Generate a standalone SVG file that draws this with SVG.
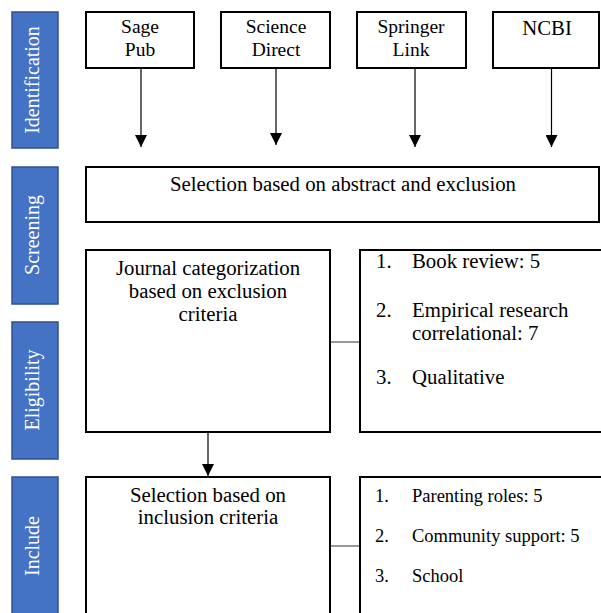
<svg xmlns="http://www.w3.org/2000/svg" width="601" height="613" viewBox="0 0 601 613">
<style>
.bar{fill:#4472C4;stroke:#2F528F;stroke-width:1.5}
.bt{font-family:"Liberation Serif","Times New Roman",serif;font-size:20px;fill:#fff;text-anchor:middle}
.box{fill:#fff;stroke:#000;stroke-width:2}
.t{font-family:"Liberation Serif","Times New Roman",serif;font-size:20.8px;fill:#000}
.c{text-anchor:middle}
.s{font-size:18.5px}
.src{font-size:19.5px}
.ln{stroke:#000;stroke-width:1.2;fill:none}
.cn{stroke:#555;stroke-width:1.2;fill:none}
</style>
<defs>
<marker id="ah" markerWidth="12" markerHeight="12" refX="12" refY="6" orient="auto" markerUnits="userSpaceOnUse" viewBox="0 0 12 12">
<path d="M0,0 L12,6 L0,12 Z" fill="#000"/>
</marker>
</defs>
<rect width="601" height="613" fill="#fff"/>
<g id="bar-identification"><rect class="bar" x="12" y="12" width="46" height="136"/><text class="bt" font-size="19" transform="translate(38.5,80) rotate(-90)">Identification</text></g>
<g id="bar-screening"><rect class="bar" x="12" y="167" width="46" height="137"/><text class="bt" transform="translate(38.5,235) rotate(-90)">Screening</text></g>
<g id="bar-eligibility"><rect class="bar" x="12" y="322" width="46" height="137"/><text class="bt" transform="translate(38.5,390) rotate(-90)">Eligibility</text></g>
<g id="bar-include"><rect class="bar" x="12" y="477" width="46" height="150"/><text class="bt" transform="translate(38.5,546) rotate(-90)">Include</text></g>
<g id="sagepub"><rect class="box" x="86" y="12" width="108" height="56"/><text class="t c src" x="140" y="33">Sage</text><text class="t c src" x="140" y="55.5">Pub</text></g>
<g id="sciencedirect"><rect class="box" x="221" y="12" width="109" height="56"/><text class="t c src" x="276" y="33">Science</text><text class="t c src" x="276" y="55.5">Direct</text></g>
<g id="springerlink"><rect class="box" x="357" y="12" width="109" height="56"/><text class="t c src" x="411" y="33">Springer</text><text class="t c src" x="411" y="55.5">Link</text></g>
<g id="ncbi"><rect class="box" x="493" y="12" width="106" height="56"/><text class="t c" x="547" y="35">NCBI</text></g>
<g id="screening-box"><rect class="box" x="86" y="167" width="513" height="55"/><text class="t c" x="343" y="191">Selection based on abstract and exclusion</text></g>
<g id="journal-box"><rect class="box" x="86" y="250" width="244" height="182"/><text class="t c" x="208" y="275">Journal categorization</text><text class="t c" x="208" y="298">based on exclusion</text><text class="t c" x="208" y="321">criteria</text></g>
<g id="exclusion-list"><path class="box" d="M610,250 L360,250 L360,432 L610,432"/>
<text class="t" x="376" y="268">1.</text><text class="t" x="412" y="268">Book review: 5</text>
<text class="t" x="376" y="317">2.</text><text class="t" x="412" y="317">Empirical research</text><text class="t" x="412" y="340">correlational: 7</text>
<text class="t" x="376" y="384">3.</text><text class="t" x="412" y="384">Qualitative</text></g>
<g id="inclusion-box"><rect class="box" x="86" y="477" width="244" height="150"/><text class="t c" x="208" y="502">Selection based on</text><text class="t c" x="208" y="524">inclusion criteria</text></g>
<g id="inclusion-list"><path class="box" d="M610,477 L360,477 L360,630"/>
<text class="t s" x="375" y="502">1.</text><text class="t s" x="412" y="502">Parenting roles: 5</text>
<text class="t s" x="375" y="542">2.</text><text class="t s" x="412" y="542">Community support: 5</text>
<text class="t s" x="375" y="582">3.</text><text class="t s" x="412" y="582">School</text></g>
<g id="connectors">
<line class="ln" x1="141" y1="68" x2="141" y2="147" marker-end="url(#ah)"/>
<line class="ln" x1="276" y1="68" x2="276" y2="145" marker-end="url(#ah)"/>
<line class="ln" x1="415" y1="68" x2="415" y2="147" marker-end="url(#ah)"/>
<line class="ln" x1="551.5" y1="68" x2="551.5" y2="147" marker-end="url(#ah)"/>
<line class="ln" x1="208" y1="433" x2="208" y2="476" marker-end="url(#ah)"/>
<line class="cn" x1="331" y1="342" x2="359" y2="342"/>
<line class="cn" x1="331" y1="546" x2="359" y2="546"/>
</g>
</svg>
